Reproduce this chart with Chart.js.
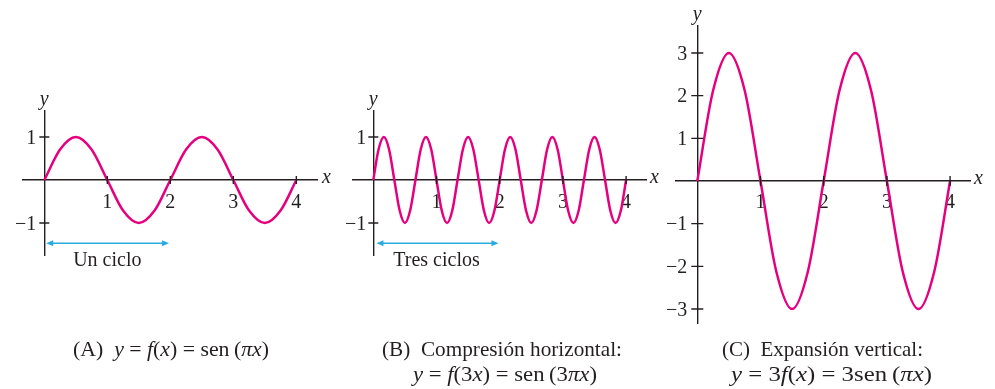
<!DOCTYPE html>
<html>
<head>
<meta charset="utf-8">
<script src="https://cdn.jsdelivr.net/npm/chart.js@4.4.1/dist/chart.umd.min.js"></script>
<style>
  html, body { margin: 0; padding: 0; background: #ffffff; }
  #wrap { position: relative; width: 995px; height: 389px; overflow: hidden;
          font-family: "Liberation Serif", "Times New Roman", serif; color: #231f20; }
  #wrap canvas { position: absolute; left: 0; top: 0; }
  .cap { position: absolute; font-size: 21px; line-height: 25px; white-space: nowrap;
         transform-origin: 0 50%; }
  .cap.math { font-size: 22px; }
  .cap i { font-style: italic; }
</style>
</head>
<body>
<div id="wrap">
  <canvas id="chartA" width="995" height="389"></canvas>
  <canvas id="chartB" width="995" height="389"></canvas>
  <canvas id="chartC" width="995" height="389"></canvas>
  <div class="cap" data-w="196" style="left:72.5px;top:336.5px">(A)&nbsp; <i>y</i> = <i>f</i>(<i>x</i>) = sen&#8201;(<i>πx</i>)</div>
  <div class="cap" data-w="240" style="left:382px;top:336.5px">(B)&nbsp; Compresión horizontal:</div>
  <div class="cap math" data-w="184" style="left:412.5px;top:361px"><i>y</i> = <i>f</i>(3<i>x</i>) = sen&#8201;(3<i>πx</i>)</div>
  <div class="cap" data-w="201" style="left:722px;top:336.5px">(C)&nbsp; Expansión vertical:</div>
  <div class="cap math" data-w="201" style="left:730.5px;top:361px"><i>y</i> = 3<i>f</i>(<i>x</i>) = 3sen&#8201;(<i>πx</i>)</div>
</div>
<script>
// ---------- data ----------
const xA = [0, 0.25, 0.5, 0.75, 1, 1.25, 1.5, 1.75, 2, 2.25, 2.5, 2.75, 3, 3.25, 3.5, 3.75, 4];
const yA = [0, 0.71, 1, 0.71, 0, -0.71, -1, -0.71, 0, 0.71, 1, 0.71, 0, -0.71, -1, -0.71, 0];

const xB = [0, 0.083, 0.167, 0.25, 0.333, 0.417, 0.5, 0.583, 0.667, 0.75, 0.833, 0.917,
            1, 1.083, 1.167, 1.25, 1.333, 1.417, 1.5, 1.583, 1.667, 1.75, 1.833, 1.917,
            2, 2.083, 2.167, 2.25, 2.333, 2.417, 2.5, 2.583, 2.667, 2.75, 2.833, 2.917,
            3, 3.083, 3.167, 3.25, 3.333, 3.417, 3.5, 3.583, 3.667, 3.75, 3.833, 3.917, 4];
const yB = [0, 0.71, 1, 0.71, 0, -0.71, -1, -0.71,
            0, 0.71, 1, 0.71, 0, -0.71, -1, -0.71,
            0, 0.71, 1, 0.71, 0, -0.71, -1, -0.71,
            0, 0.71, 1, 0.71, 0, -0.71, -1, -0.71,
            0, 0.71, 1, 0.71, 0, -0.71, -1, -0.71,
            0, 0.71, 1, 0.71, 0, -0.71, -1, -0.71, 0];

const xC = [0, 0.25, 0.5, 0.75, 1, 1.25, 1.5, 1.75, 2, 2.25, 2.5, 2.75, 3, 3.25, 3.5, 3.75, 4];
const yC = [0, 2.12, 3, 2.12, 0, -2.12, -3, -2.12, 0, 2.12, 3, 2.12, 0, -2.12, -3, -2.12, 0];

const xTicks = [1, 2, 3, 4];
const yTicksAB = [-1, 1];
const yTicksC = [-3, -2, -1, 1, 2, 3];

const arrowA = [0.03, 1.98];
const arrowB = [0.05, 1.98];
const arrowLevel = -1.47;
const arrowTextLevel = -1.87;
const arrowTextA = 'Un ciclo';
const arrowTextB = 'Tres ciclos';

// ---------- styles ----------
const CURVE = 'rgb(230, 0, 126)';
const AXIS = '#231f20';
const CYAN = 'rgb(41, 171, 226)';
const FONT = '"Liberation Serif", "Times New Roman", serif';

function fmt(v) { return v < 0 ? '\u2212' + Math.abs(v) : String(v); }

function makePlugin(cfg) {
  return {
    id: 'decor',
    afterDraw(chart) {
      const ctx = chart.ctx;
      const xs = chart.scales.x, ys = chart.scales.y;
      const ca = chart.chartArea;
      const x0 = xs.getPixelForValue(0), y0 = ys.getPixelForValue(0);
      ctx.save();
      ctx.strokeStyle = AXIS;
      ctx.lineWidth = 1.4;
      // tick marks crossing the axes
      ctx.beginPath();
      xs.ticks.forEach(t => {
        const p = xs.getPixelForValue(t.value);
        ctx.moveTo(p, y0 - cfg.xTickLen); ctx.lineTo(p, y0 + cfg.xTickLen);
      });
      ys.ticks.forEach(t => {
        const p = ys.getPixelForValue(t.value);
        ctx.moveTo(x0 - cfg.yTickLen, p); ctx.lineTo(x0 + cfg.yTickLen, p);
      });
      ctx.stroke();
      // y tick labels (left of the centred y axis)
      ctx.fillStyle = AXIS;
      ctx.font = '20px ' + FONT;
      ctx.textAlign = 'right'; ctx.textBaseline = 'middle';
      ys.ticks.forEach(t => {
        ctx.fillText(fmt(t.value), x0 - cfg.yPad, ys.getPixelForValue(t.value) + 1.5);
      });
      // axis titles
      ctx.font = 'italic 20px ' + FONT;
      ctx.textAlign = 'left'; ctx.textBaseline = 'middle';
      ctx.fillText('x', ca.right + 4, y0 - 2);
      ctx.textAlign = 'center'; ctx.textBaseline = 'alphabetic';
      ctx.fillText('y', x0, ca.top - 6);
      // double arrow
      if (cfg.arrow) {
        const a = xs.getPixelForValue(cfg.arrow[0]);
        const b = xs.getPixelForValue(cfg.arrow[1]);
        const ay = ys.getPixelForValue(cfg.arrowLevel);
        ctx.strokeStyle = CYAN; ctx.fillStyle = CYAN; ctx.lineWidth = 1.6;
        ctx.beginPath(); ctx.moveTo(a + 4, ay); ctx.lineTo(b - 4, ay); ctx.stroke();
        ctx.beginPath(); ctx.moveTo(a, ay); ctx.lineTo(a + 7, ay - 3); ctx.lineTo(a + 7, ay + 3); ctx.closePath(); ctx.fill();
        ctx.beginPath(); ctx.moveTo(b, ay); ctx.lineTo(b - 7, ay - 3); ctx.lineTo(b - 7, ay + 3); ctx.closePath(); ctx.fill();
        ctx.fillStyle = AXIS;
        ctx.font = '20px ' + FONT;
        ctx.textAlign = 'center'; ctx.textBaseline = 'middle';
        ctx.fillText(cfg.arrowText, xs.getPixelForValue(1), ys.getPixelForValue(cfg.arrowTextLevel));
      }
      ctx.restore();
    }
  };
}

function makeChart(id, xs, ys, cfg) {
  const pts = xs.map((x, i) => ({ x: x, y: ys[i] }));
  return new Chart(document.getElementById(id), {
    type: 'line',
    data: { datasets: [{ data: pts, borderColor: CURVE, borderWidth: 2.5, pointRadius: 0,
                         cubicInterpolationMode: 'monotone', fill: false }] },
    options: {
      responsive: false, animation: false, events: [],
      layout: { padding: cfg.pad },
      plugins: { legend: { display: false }, tooltip: { enabled: false } },
      scales: {
        x: {
          type: 'linear', min: cfg.xmin, max: cfg.xmax, position: { y: 0 },
          grid: { display: false, drawTicks: false },
          border: { display: true, color: AXIS, width: 1.4 },
          afterBuildTicks: s => { s.ticks = cfg.xTicks.map(v => ({ value: v })); },
          ticks: { color: AXIS, font: { family: FONT, size: 20 }, padding: cfg.xPad,
                   maxRotation: 0, autoSkip: false, callback: v => fmt(v) }
        },
        y: {
          type: 'linear', min: cfg.ymin, max: cfg.ymax, position: { x: 0 },
          grid: { display: false, drawTicks: false },
          border: { display: true, color: AXIS, width: 1.4 },
          afterBuildTicks: s => { s.ticks = cfg.yTicks.map(v => ({ value: v })); },
          ticks: { display: false, font: { family: FONT, size: 20 }, autoSkip: false }
        }
      }
    },
    plugins: [makePlugin(cfg)]
  });
}

makeChart('chartA', xA, yA, {
  pad: { left: 22.7, right: 677, top: 110.7, bottom: 134 },
  xmin: -0.343, xmax: 4.344, ymin: -1.744, ymax: 1.612,
  xTicks: xTicks, yTicks: yTicksAB, xTickLen: 4, yTickLen: 5, xPad: 11, yPad: 8,
  arrow: arrowA, arrowLevel: arrowLevel, arrowText: arrowTextA, arrowTextLevel: arrowTextLevel
});
makeChart('chartB', xB, yB, {
  pad: { left: 352.7, right: 349, top: 110.7, bottom: 134 },
  xmin: -0.326, xmax: 4.315, ymin: -1.744, ymax: 1.612,
  xTicks: xTicks, yTicks: yTicksAB, xTickLen: 4, yTickLen: 5, xPad: 11, yPad: 7,
  arrow: arrowB, arrowLevel: arrowLevel, arrowText: arrowTextB, arrowTextLevel: arrowTextLevel
});
makeChart('chartC', xC, yC, {
  pad: { left: 676, right: 25, top: 26, bottom: 65.7 },
  xmin: -0.337, xmax: 4.315, ymin: -3.335, ymax: 3.633,
  xTicks: xTicks, yTicks: yTicksC, xTickLen: 5, yTickLen: 6, xPad: 10, yPad: 10,
  arrow: null
});

// stretch each caption line to the width it has in the reference
document.querySelectorAll('.cap').forEach(el => {
  const w = el.getBoundingClientRect().width;
  const target = parseFloat(el.dataset.w);
  if (w > 0) el.style.transform = 'scaleX(' + (target / w).toFixed(4) + ')';
});
</script>
</body>
</html>
